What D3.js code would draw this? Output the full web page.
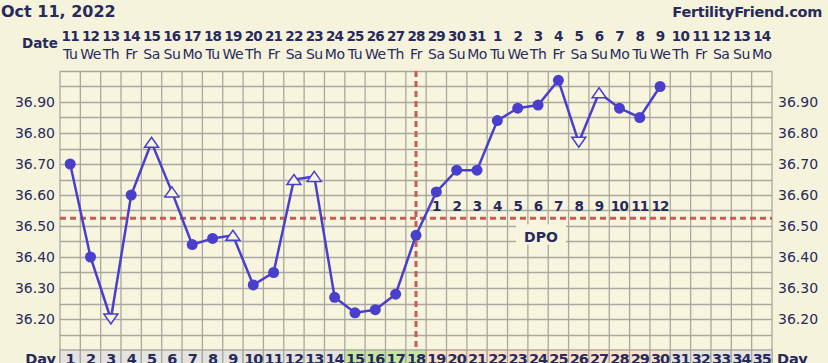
<!DOCTYPE html>
<html><head><meta charset="utf-8">
<script src="https://cdn.jsdelivr.net/npm/d3@7"></script>
<style>
html,body{margin:0;padding:0;background:#f6f3dc;}
svg{display:block;}
</style></head>
<body>
<svg id="c" width="828" height="363"></svg>
<script>
const title = "Oct 11, 2022";
const site = "FertilityFriend.com";
const dateNums = [11,12,13,14,15,16,17,18,19,20,21,22,23,24,25,26,27,28,29,30,31,1,2,3,4,5,6,7,8,9,10,11,12,13,14];
const weekdays = ["Tu","We","Th","Fr","Sa","Su","Mo","Tu","We","Th","Fr","Sa","Su","Mo","Tu","We","Th","Fr","Sa","Su","Mo","Tu","We","Th","Fr","Sa","Su","Mo","Tu","We","Th","Fr","Sa","Su","Mo"];
const days = d3.range(1,36);
const temps = [36.70,36.40,36.20,36.60,36.77,36.61,36.44,36.46,36.47,36.31,36.35,36.65,36.66,36.27,36.22,36.23,36.28,36.47,36.61,36.68,36.68,36.84,36.88,36.89,36.97,36.77,36.93,36.88,36.85,36.95];
// marker: 0 = filled circle, 1 = open triangle up, -1 = open triangle down
const markers = [0,0,-1,0,1,1,0,0,1,0,0,1,1,0,0,0,0,0,0,0,0,0,0,0,0,-1,1,0,0,0];
const dayPhase = days.map(d => d<=14 ? "pre" : d<=18 ? "fert" : d<=30 ? "luteal" : "future");
const yTicks = [36.20,36.30,36.40,36.50,36.60,36.70,36.80,36.90];
const coverline = 36.525;
const ovulationDay = 18;
const dpoLabels = d3.range(1,13);

const svg = d3.select("#c");
const x = d3.scaleLinear().domain([0.5,35.5]).range([60,772]);
const y = d3.scaleLinear().domain([36.10,37.00]).range([350,71]);
const colW = x(2)-x(1);
const navy = "#272a5c", blue = "#4a3fcc", red = "#c85b55", grid = "#a9a79f";
const font = "DejaVu Sans, Verdana, sans-serif";

svg.append("rect").attr("width",828).attr("height",363).attr("fill","#f6f3dc");
svg.append("rect").attr("x",x(0.5)).attr("y",y(37)).attr("width",x(35.5)-x(0.5)).attr("height",y(36.1)-y(37)).attr("fill","#f8f5de");

// Titles
svg.append("text").attr("x",1).attr("y",17).text(title).attr("font-family",font).attr("font-weight","bold").attr("font-size",16).attr("fill",navy);
svg.append("text").attr("x",822).attr("y",17).attr("text-anchor","end").text(site).attr("font-family",font).attr("font-weight","bold").attr("font-size",14.5).attr("fill",navy).attr("letter-spacing",-0.3);

// Date header
svg.append("text").attr("x",22).attr("y",48).text("Date").attr("font-family",font).attr("font-weight","bold").attr("font-size",13.5).attr("fill",navy);
svg.selectAll(".dn").data(days).enter().append("text")
  .attr("x",d=>x(d)).attr("y",41).attr("text-anchor","middle")
  .text((d,i)=>dateNums[i]).attr("font-family",font).attr("font-weight","bold").attr("font-size",13.5).attr("fill",navy)
  .attr("letter-spacing",-0.8);
svg.selectAll(".wd").data(days).enter().append("text")
  .attr("x",d=>x(d)).attr("y",59).attr("text-anchor","middle")
  .text((d,i)=>weekdays[i]).attr("font-family",font).attr("font-size",14).attr("fill",navy).attr("letter-spacing",-0.5);

// Grid
const gridG = svg.append("g").attr("stroke",grid).attr("stroke-width",1.3);
const hLines = d3.range(0,19).map(i=>36.10+i*0.05);
gridG.selectAll(".h").data(hLines).enter().append("line")
  .attr("x1",x(0.5)).attr("x2",x(35.5)).attr("y1",d=>Math.round(y(d))+0.5).attr("y2",d=>Math.round(y(d))+0.5);
const vLines = d3.range(0,36).map(i=>i+0.5);
gridG.selectAll(".v").data(vLines).enter().append("line")
  .attr("y1",y(37)).attr("y2",363).attr("x1",d=>x(d)).attr("x2",d=>x(d));

// Day row
const phaseFill = {pre:"#e4e3e0",fert:"#c6e5a2",luteal:"#fbe1c9",future:"#e4e3e0"};
svg.selectAll(".dc").data(days).enter().append("rect")
  .attr("x",d=>x(d-0.5)).attr("y",y(36.1)).attr("width",colW).attr("height",20)
  .attr("fill",(d,i)=>phaseFill[dayPhase[i]]).attr("stroke",grid).attr("stroke-width",1.3);
svg.selectAll(".dt").data(days).enter().append("text")
  .attr("x",d=>x(d)).attr("y",364).attr("text-anchor","middle").text(d=>d)
  .attr("font-family",font).attr("font-weight","bold").attr("font-size",14.5).attr("fill",navy).attr("letter-spacing",-1);
svg.append("text").attr("x",x(0.5)-4).attr("y",364).attr("text-anchor","end").text("Day").attr("font-family",font).attr("font-weight","bold").attr("font-size",14.5).attr("fill",navy);
svg.append("text").attr("x",x(35.5)+5).attr("y",364).text("Day").attr("font-family",font).attr("font-weight","bold").attr("font-size",14.5).attr("fill",navy);

// Y labels
svg.selectAll(".yl").data(yTicks).enter().append("text")
  .attr("x",55).attr("y",d=>y(d)+5).attr("text-anchor","end").text(d=>d.toFixed(2))
  .attr("font-family",font).attr("font-size",14).attr("fill",navy);
svg.selectAll(".yr").data(yTicks).enter().append("text")
  .attr("x",778).attr("y",d=>y(d)+5).text(d=>d.toFixed(2))
  .attr("font-family",font).attr("font-size",14).attr("fill",navy);

// DPO label box
svg.append("rect").attr("x",516).attr("y",y(36.505)).attr("width",50).attr("height",y(36.44)-y(36.505)).attr("fill","#f8f5de");
svg.append("text").attr("x",541).attr("y",y(36.465)+5).attr("text-anchor","middle").text("DPO")
  .attr("font-family",font).attr("font-weight","bold").attr("font-size",14).attr("fill",navy);

// Coverline & ovulation line
svg.append("line").attr("x1",x(0.5)).attr("x2",x(35.5)).attr("y1",y(coverline)).attr("y2",y(coverline))
  .attr("stroke",red).attr("stroke-width",3).attr("stroke-dasharray","6,4");
svg.append("line").attr("x1",x(ovulationDay)).attr("x2",x(ovulationDay)).attr("y1",y(37)).attr("y2",y(36.1))
  .attr("stroke",red).attr("stroke-width",3).attr("stroke-dasharray","6,4");

// DPO numbers
svg.selectAll(".dpo").data(dpoLabels).enter().append("text")
  .attr("x",d=>x(ovulationDay+d)).attr("y",y(coverline)-7).attr("text-anchor","middle").text(d=>d)
  .attr("font-family",font).attr("font-weight","bold").attr("font-size",13.5).attr("fill",navy).attr("letter-spacing",-0.8);

// Temperature line
const pts = temps.map((t,i)=>({d:i+1,t:t,m:markers[i]}));
svg.append("path").datum(pts)
  .attr("d",d3.line().x(p=>x(p.d)).y(p=>y(p.t)))
  .attr("fill","none").attr("stroke",blue).attr("stroke-width",2.5);
svg.selectAll(".pc").data(pts.filter(p=>p.m===0)).enter().append("circle")
  .attr("cx",p=>x(p.d)).attr("cy",p=>y(p.t)).attr("r",5.5).attr("fill",blue);
const tri = (p)=>{
  const cx=x(p.d), cy=y(p.t), w=7, h=8;
  return p.m>0 ? `M${cx},${cy-h/2-1}L${cx+w},${cy+h/2+1}L${cx-w},${cy+h/2+1}Z`
               : `M${cx},${cy+h/2+1}L${cx+w},${cy-h/2-1}L${cx-w},${cy-h/2-1}Z`;
};
svg.selectAll(".pt").data(pts.filter(p=>p.m!==0)).enter().append("path")
  .attr("d",tri).attr("fill","#f8f5de").attr("stroke",blue).attr("stroke-width",1.5);
</script>
</body></html>
